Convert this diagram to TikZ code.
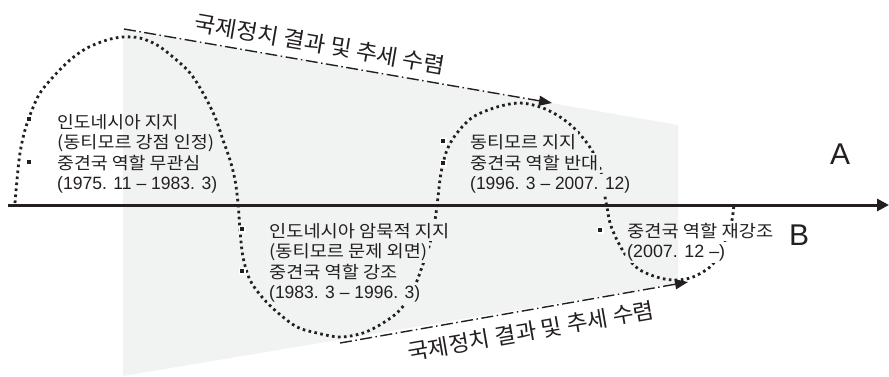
\documentclass[tikz,border=0pt]{standalone}
\usepackage{fontspec}
\usepackage{graphicx}
\setmainfont{Noto Sans CJK KR}
\newfontfamily\kor{Noto Sans CJK KR}
\newfontfamily\latf{Liberation Sans}
\usetikzlibrary{arrows.meta}
\definecolor{shadegray}{HTML}{F1F2F2}
\definecolor{ink}{HTML}{231F20}
\newcommand\fw[2]{\resizebox{#1pt}{\height}{#2}}
\pgfdeclarelayer{back}
\pgfdeclarelayer{mid}
\pgfdeclarelayer{knock}
\pgfsetlayers{back,mid,knock,main}
\newcommand\bandpath{(123,29) -- (678,125) -- (678,283) -- (123,376) -- cycle}
\newcommand\knock[1]{%
  \begin{pgfonlayer}{knock}
    \begin{scope}
      \clip ([shift={(-1.5pt,-1.5pt)}]#1.south west) rectangle ([shift={(1.5pt,1.5pt)}]#1.north east);
      \fill[white] (0,0) rectangle (889,376);
      \fill[shadegray] \bandpath;
    \end{scope}
  \end{pgfonlayer}}
\begin{document}
\begin{tikzpicture}[x=1pt,y=-1pt,
  txt/.style={anchor=base west, inner sep=0pt, font=\kor\fontsize{17}{20}\selectfont, text=ink},
  dtxt/.style={anchor=base west, inner sep=0pt, font=\latf\fontsize{17.8}{20}\selectfont, text=ink},
  bul/.style={rectangle, fill=ink, draw=white, line width=1.2pt, minimum size=5.8pt, inner sep=0pt},
  dd/.style={line width=1.4pt, draw=ink, dash pattern=on 12pt off 3.5pt on 1.5pt off 3.5pt, -{Triangle[length=13pt,width=10pt]}},
  dotted curve/.style={line width=2.8pt, draw=ink, dash pattern=on 2.6pt off 3.4pt},
  lbl/.style={font=\kor\fontsize{22}{22}\selectfont, text=ink, inner sep=0pt},
  big/.style={font=\latf\fontsize{30}{30}\selectfont, text=ink, inner sep=0pt}]
\useasboundingbox (0,0) rectangle (889,376);
% shaded band
\begin{pgfonlayer}{back}
\fill[shadegray] \bandpath;
\end{pgfonlayer}
% axis
\coordinate (ax0) at (8,205);
\coordinate (ax1) at (889,205);
\draw[line width=3pt, draw=ink, -{Triangle[length=12pt,width=12pt]}] (ax0) -- (ax1);
% trend arrows
\coordinate (u0) at (124,29);
\coordinate (u1) at (552,103);
\draw[dd] (u0) -- (u1);
\coordinate (d0) at (340,343);
\coordinate (d1) at (688,282);
\draw[dd] (d0) -- (d1);
% dotted wave
\begin{pgfonlayer}{mid}
\draw[dotted curve] plot[smooth, tension=0.55] coordinates {
 (15,203) (17,180) (20,153) (25,130) (32,110) (40,93) (53,77) (70,60) (87,48) (107,40) (123,37)
 (140,38) (157,45) (173,57) (190,73) (203,93) (215,117) (223,140) (230,160) (235,180) (238,203)
 (240,230) (243,257) (250,280) (262,297) (277,312) (297,327) (317,333) (340,337) (363,333)
 (383,323) (400,310) (413,290) (422,267) (430,243) (435,220) (438,197) (441,173) (447,150)
 (457,133) (473,117) (497,107) (520,103) (540,107) (557,115) (573,127) (587,143) (597,160)
 (602,177) (605,197) (607,207) (610,223) (617,240) (627,257) (640,270) (660,278) (677,280)
 (693,277) (710,267) (720,253) (727,237) (732,220) (734,204)};
\end{pgfonlayer}
% trend labels
\node[lbl, rotate=-9.8] (tl) at (320,44) {\fw{254}{국제정치 결과 및 추세 수렴}};
\node[lbl, rotate=9.9] (bl) at (531,331) {\fw{250}{국제정치 결과 및 추세 수렴}};
% A / B
\node[big] (la) at (840,154) {A};
\node[big] (lb) at (799,235) {B};
% block 1
\node[bul] (p1) at (29,119) {};
\node[bul] (p2) at (29,162) {};
\node[txt] (t11) at (57,128) {\fw{121}{인도네시아 지지}};
\node[txt] (t12) at (57,148) {\fw{157}{(동티모르 강점 인정)}};
\node[txt] (t13) at (57,169) {\fw{143}{중견국 역할 무관심}};
\node[dtxt] (t14) at (57,189.5) {\fw{160}{(1975. 11 – 1983. 3)}};
% block 2
\node[bul] (p3) at (242,229) {};
\node[bul] (p4) at (242,271) {};
\node[txt] (t21) at (269,237) {\fw{180}{인도네시아 암묵적 지지}};
\node[txt] (t22) at (269,257.5) {\fw{158}{(동티모르 문제 외면)}};
\node[txt] (t23) at (269,278) {\fw{128}{중견국 역할 강조}};
\node[dtxt] (t24) at (269,298.5) {\fw{151}{(1983. 3 – 1996. 3)}};
% block 3
\node[bul] (p5) at (443,141) {};
\node[bul] (p6) at (443,163) {};
\node[txt] (t31) at (470,148) {\fw{106}{동티모르 지지}};
\node[txt] (t32) at (470,169) {\fw{128}{중견국 역할 반대}};
\node[dtxt] (t33) at (470,189.5) {\fw{160}{(1996. 3 – 2007. 12)}};
% block 4
\node[bul] (p7) at (600,230) {};
\node[txt] (t41) at (627,237) {\fw{146}{중견국 역할 재강조}};
\node[dtxt] (t42) at (627,257.5) {\fw{98}{(2007. 12 –)}};
% halos under the texts
\knock{t11}\knock{t12}\knock{t13}\knock{t14}
\knock{t21}\knock{t22}\knock{t23}\knock{t24}
\knock{t31}\knock{t32}\knock{t33}
\knock{t41}\knock{t42}
\end{tikzpicture}
\end{document}
